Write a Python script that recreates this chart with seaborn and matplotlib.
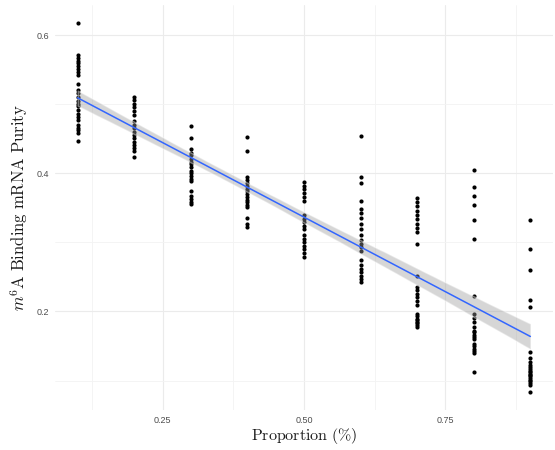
import numpy as np
import pandas as pd
import matplotlib
matplotlib.use("Agg")
import matplotlib.pyplot as plt
import seaborn as sns
from matplotlib.ticker import FixedLocator

# ---- data ----
proportions = [0.1, 0.2, 0.3, 0.4, 0.5, 0.6, 0.7, 0.8, 0.9]
purity_01 = [0.617, 0.571, 0.567, 0.563, 0.559, 0.555, 0.551, 0.547, 0.543, 0.529, 0.521, 0.516,
             0.510, 0.505, 0.501, 0.497, 0.492, 0.486, 0.481, 0.477, 0.470, 0.466, 0.462, 0.458, 0.447]
purity_02 = [0.511, 0.506, 0.501, 0.496, 0.490, 0.484, 0.476, 0.470, 0.465, 0.460, 0.456, 0.451,
             0.446, 0.441, 0.436, 0.432, 0.423]
purity_03 = [0.468, 0.451, 0.435, 0.430, 0.426, 0.421, 0.417, 0.413, 0.409, 0.404, 0.400, 0.396,
             0.392, 0.389, 0.375, 0.367, 0.363, 0.359, 0.355]
purity_04 = [0.453, 0.432, 0.394, 0.390, 0.386, 0.382, 0.378, 0.374, 0.370, 0.366, 0.362, 0.358,
             0.354, 0.351, 0.336, 0.327, 0.322]
purity_05 = [0.387, 0.382, 0.378, 0.371, 0.366, 0.360, 0.339, 0.334, 0.329, 0.324, 0.319, 0.310,
             0.305, 0.300, 0.295, 0.290, 0.285, 0.279]
purity_06 = [0.454, 0.395, 0.386, 0.360, 0.348, 0.342, 0.336, 0.327, 0.319, 0.310, 0.303, 0.298,
             0.293, 0.288, 0.274, 0.267, 0.262, 0.257, 0.252, 0.247, 0.243]
purity_07 = [0.364, 0.358, 0.352, 0.346, 0.340, 0.334, 0.327, 0.321, 0.315, 0.298, 0.251, 0.236,
             0.231, 0.226, 0.221, 0.215, 0.209, 0.197, 0.193, 0.189, 0.185, 0.181, 0.178, 0.183, 0.187]
purity_08 = [0.405, 0.380, 0.367, 0.354, 0.333, 0.305, 0.222, 0.197, 0.191, 0.185, 0.178, 0.172,
             0.166, 0.160, 0.153, 0.146, 0.140, 0.112, 0.170, 0.163, 0.150, 0.143]
purity_09 = [0.332, 0.291, 0.260, 0.216, 0.207, 0.141, 0.132, 0.127, 0.122, 0.117, 0.112, 0.108,
             0.104, 0.099, 0.094, 0.084, 0.120, 0.110, 0.101, 0.106, 0.097, 0.114]
x_ticks = [0.25, 0.50, 0.75]
x_tick_labels = ["0.25", "0.50", "0.75"]
y_ticks = [0.2, 0.4, 0.6]
y_tick_labels = ["0.2", "0.4", "0.6"]

columns = [purity_01, purity_02, purity_03, purity_04, purity_05,
           purity_06, purity_07, purity_08, purity_09]
rows = []
for p, vals in zip(proportions, columns):
    for v in vals:
        rows.append((p, v))
df = pd.DataFrame(rows, columns=["proportion", "purity"])

# ---- style ----
sns.set_theme(style="white")
plt.rcParams["font.family"] = ["Liberation Sans", "DejaVu Sans"]
plt.rcParams["mathtext.fontset"] = "cm"

fig = plt.figure(figsize=(5.55, 4.5), dpi=100)
ax = fig.add_axes([55 / 555, (450 - 410) / 450, 498 / 555, 405 / 450])

sns.scatterplot(data=df, x="proportion", y="purity", ax=ax, color="black",
                s=9, linewidth=0, zorder=3)
sns.regplot(data=df, x="proportion", y="purity", ax=ax, scatter=False,
            color="#3366FF", ci=95, seed=1, truncate=True,
            line_kws={"linewidth": 1.1, "zorder": 5})
# ggplot-like grey confidence band
for coll in ax.collections:
    if isinstance(coll, matplotlib.collections.PolyCollection):
        coll.set_facecolor("#999999")
        coll.set_alpha(0.4)
        coll.set_zorder(4)

xmin, xmax = min(proportions), max(proportions)
xr = xmax - xmin
ax.set_xlim(xmin - 0.05 * xr, xmax + 0.05 * xr)
ymin, ymax = df["purity"].min(), df["purity"].max()
yr = ymax - ymin
ax.set_ylim(ymin - 0.05 * yr, ymax + 0.05 * yr)

ax.xaxis.set_major_locator(FixedLocator(x_ticks))
ax.set_xticklabels(x_tick_labels)
ax.yaxis.set_major_locator(FixedLocator(y_ticks))
ax.set_yticklabels(y_tick_labels)
ax.xaxis.set_minor_locator(FixedLocator([0.125, 0.375, 0.625, 0.875]))
ax.yaxis.set_minor_locator(FixedLocator([0.1, 0.3, 0.5]))

ax.grid(True, which="major", color="#EBEBEB", linewidth=0.8)
ax.grid(True, which="minor", color="#F3F3F3", linewidth=0.6)
ax.set_axisbelow(True)
for s in ax.spines.values():
    s.set_visible(False)
ax.tick_params(axis="both", which="both", length=0, labelsize=6.5,
               labelcolor="#4D4D4D", pad=4)

ax.set_xlabel(r"$\mathrm{Proportion\ (\%)}$", fontsize=11.5, labelpad=1, color="#1a1a1a")
ax.set_ylabel(r"$m^6\mathrm{A\ Binding\ mRNA\ Purity}$", fontsize=12, labelpad=5, color="#1a1a1a")

fig.savefig("out.png", dpi=100)
